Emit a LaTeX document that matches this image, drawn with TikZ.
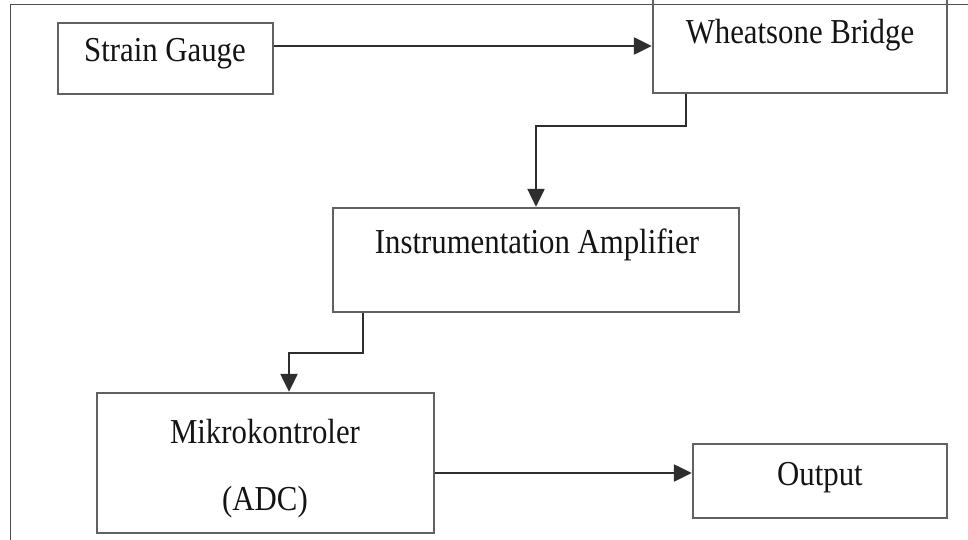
\documentclass[tikz,border=0pt]{standalone}
\usepackage{fontspec}
\setmainfont[FakeStretch=0.88]{Liberation Serif}
\usetikzlibrary{arrows.meta}
\tikzset{
  blockbox/.style={draw=black!62, line width=2.4pt, rectangle, inner sep=0pt},
  blocktext/.style={font=\fontsize{35}{42}\selectfont, text=black!92, inner sep=0pt},
  link/.style={draw=black!82, line width=2.4pt},
  arr/.style={link, -{Triangle[length=18pt,width=17pt]}},
  frameline/.style={draw=black!70, line width=1pt}
}
\begin{document}
\begin{tikzpicture}[x=1pt,y=-1pt]
  \useasboundingbox (0,0) rectangle (968,540);
  \clip (0,0) rectangle (968,540);
  \fill[white] (0,0) rectangle (968,540);

  % outer frame (top and left only)
  \draw[frameline] (968,5) -- (10,5) -- (10,545);

  % blocks
  \node[blockbox, minimum width=215pt, minimum height=71pt] (sg) at (165.5,58.5) {};
  \node[blockbox, minimum width=294pt, minimum height=103pt] (wb) at (800,41.5) {};
  \node[blockbox, minimum width=406pt, minimum height=104pt] (ia) at (536,260) {};
  \node[blockbox, minimum width=337pt, minimum height=140pt] (mk) at (265.5,463) {};
  \node[blockbox, minimum width=254pt, minimum height=74pt] (out) at (820,481) {};

  % block labels
  \node[blocktext] (sgt) at (165,54) {Strain Gauge};
  \node[blocktext] (wbt) at (800,35) {Wheatsone Bridge};
  \node[blocktext] (iat) at (537,245) {Instrumentation Amplifier};
  \node[blocktext] (mkt) at (265,432) {Mikrokontroler};
  \node[blocktext] (adct) at (265,502) {(ADC)};
  \node[blocktext] (outt) at (820,478) {Output};

  % routing points
  \coordinate (r0) at (0,46);
  \coordinate (r1) at (686,126);
  \coordinate (r2) at (363,353);
  \coordinate (r3) at (289,353);
  \coordinate (r4) at (0,473);

  % connectors
  \draw[arr] (sg.east |- r0) -- (wb.west |- r0);
  \draw[arr] (wb.south -| r1) -- (r1) -| (ia.north);
  \draw[arr] (ia.south -| r2) -- (r2) -- (r3) -- (r3 |- mk.north);
  \draw[arr] (mk.east |- r4) -- (out.west |- r4);
\end{tikzpicture}
\end{document}
